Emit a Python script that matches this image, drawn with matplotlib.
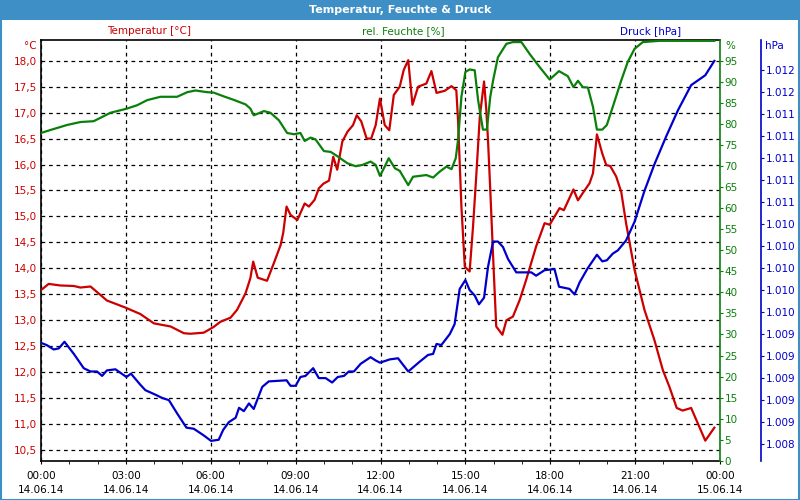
import matplotlib
matplotlib.use("Agg")
import matplotlib.pyplot as plt
from matplotlib.patches import Rectangle
from matplotlib.ticker import FuncFormatter, FixedLocator, MultipleLocator

plt.rcParams['font.family'] = ['DejaVu Sans']

# ---------------- data ----------------
temp_hours = [0, 0.27, 0.68, 1.16, 1.39, 1.75, 2.16, 2.33, 2.81, 3.0, 3.51, 3.99, 4.58, 5.05, 5.28,
              5.75, 6.1, 6.34, 6.7, 6.93, 7.23, 7.4, 7.5, 7.66, 7.99, 8.23, 8.47, 8.56, 8.68, 8.82,
              9.06, 9.32, 9.47, 9.67, 9.82, 9.98, 10.18, 10.33, 10.47, 10.65, 10.83, 11.03, 11.16,
              11.32, 11.51, 11.67, 11.83, 11.98, 12.15, 12.31, 12.47, 12.68, 12.82, 12.98, 13.13,
              13.33, 13.62, 13.8, 13.98, 14.27, 14.51, 14.68, 14.74, 14.86, 14.98, 15.15, 15.27,
              15.39, 15.51, 15.66, 15.74, 15.8, 15.88, 15.98, 16.09, 16.31, 16.45, 16.68, 16.92,
              17.15, 17.5, 17.8, 17.98, 18.33, 18.48, 18.82, 18.98, 19.15, 19.39, 19.51, 19.65,
              19.84, 19.98, 20.12, 20.33, 20.51, 20.68, 20.98, 21.33, 21.68, 21.98, 22.21, 22.47,
              22.68, 22.98, 23.21, 23.48, 23.8]
temp_values = [13.58, 13.70, 13.67, 13.66, 13.63, 13.65, 13.46, 13.38, 13.28, 13.24, 13.12, 12.94,
               12.88, 12.75, 12.74, 12.76, 12.87, 12.97, 13.05, 13.2, 13.52, 13.81, 14.13, 13.82,
               13.76, 14.1, 14.45, 14.68, 15.19, 15.03, 14.93, 15.25, 15.19, 15.32, 15.54, 15.63,
               15.69, 16.15, 15.9, 16.44, 16.63, 16.76, 16.95, 16.83, 16.5, 16.5, 16.76, 17.27,
               16.76, 16.66, 17.34, 17.5, 17.82, 18.01, 17.15, 17.5, 17.56, 17.8, 17.38, 17.42,
               17.51, 17.43, 16.86, 15.19, 14.03, 13.94, 14.8, 15.83, 16.92, 17.6, 17.05, 16.47,
               15.51, 14.23, 12.88, 12.72, 13.0, 13.07, 13.39, 13.78, 14.42, 14.87, 14.84, 15.16,
               15.12, 15.52, 15.31, 15.45, 15.64, 15.83, 16.58, 16.21, 15.99, 15.97, 15.77, 15.47,
               14.87, 13.97, 13.2, 12.62, 12.04, 11.72, 11.31, 11.26, 11.31, 11.02, 10.68, 10.93]

hum_hours = [0, 0.33, 0.92, 1.39, 1.86, 2.16, 2.45, 2.81, 3.04, 3.4, 3.75, 4.22, 4.81, 5.17, 5.46,
             5.87, 6.1, 6.46, 6.8, 7.23, 7.4, 7.52, 7.88, 8.11, 8.41, 8.7, 8.94, 9.17, 9.32, 9.53,
             9.7, 10.0, 10.24, 10.47, 10.83, 11.12, 11.36, 11.65, 11.83, 11.98, 12.15, 12.29,
             12.51, 12.68, 12.98, 13.15, 13.39, 13.62, 13.86, 14.09, 14.33, 14.51, 14.66, 14.74,
             14.86, 15.0, 15.15, 15.33, 15.45, 15.62, 15.76, 15.88, 15.98, 16.15, 16.45, 16.68,
             16.98, 17.27, 17.62, 17.98, 18.31, 18.62, 18.82, 18.98, 19.15, 19.33, 19.51, 19.65,
             19.84, 20.0, 20.21, 20.51, 20.74, 20.98, 21.27, 21.86, 23.8]
hum_values = [77.9, 78.6, 79.8, 80.5, 80.7, 81.7, 82.7, 83.3, 83.7, 84.5, 85.7, 86.5, 86.5, 87.6,
              88.0, 87.6, 87.5, 86.6, 85.8, 84.7, 83.7, 82.1, 83.1, 82.7, 80.9, 77.9, 77.6, 77.9,
              76.0, 76.8, 76.4, 73.6, 73.4, 72.4, 70.7, 70.0, 70.3, 71.1, 70.3, 67.7, 69.9, 71.9,
              69.5, 68.9, 65.5, 67.5, 67.7, 67.9, 67.3, 68.7, 69.9, 69.3, 71.9, 76.2, 86.5, 92.4,
              93.0, 92.8, 85.7, 78.7, 78.7, 86.5, 90.4, 95.9, 99.1, 99.5, 99.5, 96.7, 93.6, 90.6,
              92.6, 91.4, 88.8, 90.3, 88.8, 88.7, 84.1, 78.7, 78.7, 79.8, 84.1, 90.4, 94.8, 97.9,
              99.5, 99.8, 99.8]

press_hours = [0, 0.2, 0.45, 0.63, 0.83, 1.16, 1.51, 1.75, 1.98, 2.16, 2.33, 2.63, 3.02, 3.18,
               3.51, 3.69, 4.04, 4.28, 4.52, 4.81, 5.14, 5.4, 5.75, 6.01, 6.28, 6.44, 6.64, 6.88,
               7.0, 7.17, 7.35, 7.52, 7.82, 8.05, 8.68, 8.82, 9.0, 9.17, 9.35, 9.62, 9.82, 10.06,
               10.29, 10.49, 10.71, 10.88, 11.06, 11.3, 11.65, 11.83, 11.98, 12.33, 12.62, 12.98,
               13.39, 13.68, 13.86, 13.98, 14.15, 14.45, 14.62, 14.8, 15.0, 15.15, 15.33, 15.48,
               15.66, 15.8, 15.98, 16.15, 16.33, 16.51, 16.8, 17.33, 17.5, 17.8, 18.15, 18.31,
               18.68, 18.86, 19.04, 19.33, 19.65, 19.84, 20.0, 20.21, 20.39, 20.68, 20.98, 21.33,
               21.68, 22.09, 22.51, 22.98, 23.48, 23.8]
press_values = [1009.32, 1009.30, 1009.26, 1009.27, 1009.33, 1009.22, 1009.09, 1009.06, 1009.06,
                1009.02, 1009.07, 1009.08, 1009.01, 1009.04, 1008.94, 1008.89, 1008.85, 1008.82,
                1008.80, 1008.68, 1008.55, 1008.54, 1008.48, 1008.43, 1008.44, 1008.53, 1008.60,
                1008.64, 1008.73, 1008.70, 1008.77, 1008.72, 1008.92, 1008.97, 1008.98, 1008.93,
                1008.93, 1009.01, 1009.02, 1009.09, 1009.00, 1009.00, 1008.96, 1009.01, 1009.02,
                1009.06, 1009.06, 1009.13, 1009.19, 1009.16, 1009.14, 1009.17, 1009.18, 1009.06,
                1009.15, 1009.21, 1009.22, 1009.31, 1009.30, 1009.40, 1009.49, 1009.81, 1009.89,
                1009.80, 1009.75, 1009.67, 1009.73, 1010.01, 1010.24, 1010.24, 1010.19, 1010.08,
                1009.96, 1009.96, 1009.93, 1009.98, 1009.99, 1009.83, 1009.81, 1009.76, 1009.87,
                1010.00, 1010.12, 1010.06, 1010.07, 1010.13, 1010.16, 1010.25, 1010.42, 1010.70,
                1010.94, 1011.19, 1011.43, 1011.66, 1011.75, 1011.88]

x_ticks = [0, 3, 6, 9, 12, 15, 18, 21, 24]
x_tick_labels = ["00:00\n14.06.14", "03:00\n14.06.14", "06:00\n14.06.14", "09:00\n14.06.14",
                 "12:00\n14.06.14", "15:00\n14.06.14", "18:00\n14.06.14", "21:00\n14.06.14",
                 "00:00\n15.06.14"]
temp_ticks = [10.5, 11.0, 11.5, 12.0, 12.5, 13.0, 13.5, 14.0, 14.5, 15.0, 15.5, 16.0, 16.5, 17.0, 17.5, 18.0]
hum_ticks = list(range(0, 100, 5))
press_ticks = [1008.4 + 0.2 * i for i in range(18)]

title = "Temperatur, Feuchte & Druck"
label_temp = "Temperatur [°C]"
label_hum = "rel. Feuchte [%]"
label_press = "Druck [hPa]"

# ---------------- style ----------------
RED = "#cc0000"
GREEN = "#0a800a"
BLUE = "#0000cc"
BAR = "#3d8fc6"
FS = 7.5

W, H = 800, 500
PT = 72 / 100  # points per pixel
fig = plt.figure(figsize=(8, 5), dpi=100, facecolor="white")

# title bar and frame
fig.patches.append(Rectangle((0, 1 - 20 / H), 1, 20 / H, transform=fig.transFigure,
                             facecolor=BAR, edgecolor="none", zorder=0))
fig.patches.append(Rectangle((0.5 / W, 0.5 / H), 1 - 1.5 / W, 1 - 1.5 / H, transform=fig.transFigure,
                             facecolor="none", edgecolor=BAR, linewidth=1.5, zorder=0))
fig.text(0.5, 1 - 10 / H, title, color="white", fontsize=8, fontweight="bold",
         ha="center", va="center")

left, right, top, bottom = 41, 720, 40, 460.7
ax = fig.add_axes([left / W, 1 - bottom / H, (right - left) / W, (bottom - top) / H])

ax.plot(temp_hours, temp_values, color=RED, lw=1.6, zorder=3)
ax.set_xlim(0, 24)
ax.set_ylim(10.294, 18.399)
ax.set_yticks(temp_ticks)
ax.yaxis.set_major_formatter(FuncFormatter(lambda v, p: f"{v:.1f}".replace(".", ",")))
ax.tick_params(axis="y", length=0, pad=3, labelcolor=RED, labelsize=FS)
ax.set_xticks(x_ticks)
ax.set_xticklabels(x_tick_labels, linespacing=1.55)
ax.xaxis.set_minor_locator(MultipleLocator(1))
ax.tick_params(axis="x", which="both", length=3 * PT, direction="out", pad=5, labelsize=FS,
               color="black")
ax.grid(True, which="major", linestyle=(0, (3, 3)), color="black", lw=0.9)
for s in ["left", "top", "bottom"]:
    ax.spines[s].set_color("black")
    ax.spines[s].set_linewidth(1.2)
ax.spines["right"].set_visible(False)

ax2 = ax.twinx()
ax2.plot(hum_hours, hum_values, color=GREEN, lw=1.6, zorder=3)
ax2.set_ylim(0, 100)
ax2.set_yticks(hum_ticks)
ax2.tick_params(axis="y", length=3 * PT, direction="out", color=GREEN, labelcolor=GREEN,
                labelsize=FS, pad=1)
for s in ["left", "top", "bottom"]:
    ax2.spines[s].set_visible(False)
ax2.spines["right"].set_color(GREEN)
ax2.spines["right"].set_linewidth(1.2)

ax3 = ax.twinx()
ax3.plot(press_hours, press_values, color=BLUE, lw=1.6, zorder=3)
ax3.set_ylim(1008.25, 1012.07)
ax3.yaxis.set_major_locator(FixedLocator(press_ticks))
ax3.yaxis.set_major_formatter(FuncFormatter(lambda v, p: f"{v / 1000:.3f}"))
ax3.spines["right"].set_position(("outward", 41 * PT))
ax3.spines["right"].set_color(BLUE)
ax3.spines["right"].set_linewidth(1.2)
for s in ["left", "top", "bottom"]:
    ax3.spines[s].set_visible(False)
ax3.tick_params(axis="y", length=3 * PT, direction="out", color=BLUE, labelcolor=BLUE,
                labelsize=FS, pad=1)

# series labels above the plot
ylab = 1 - 31 / H
fig.text(149 / W, ylab, label_temp, color=RED, fontsize=FS, ha="center", va="center")
fig.text(403 / W, ylab, label_hum, color=GREEN, fontsize=FS, ha="center", va="center")
fig.text(651 / W, ylab, label_press, color=BLUE, fontsize=FS, ha="center", va="center")
fig.text(37 / W, 1 - 46 / H, "°C", color=RED, fontsize=FS, ha="right", va="center")
fig.text(725 / W, 1 - 46 / H, "%", color=GREEN, fontsize=FS, ha="left", va="center")
fig.text(765 / W, 1 - 46 / H, "hPa", color=BLUE, fontsize=FS, ha="left", va="center")

fig.savefig("out.png", dpi=100, facecolor="white")
